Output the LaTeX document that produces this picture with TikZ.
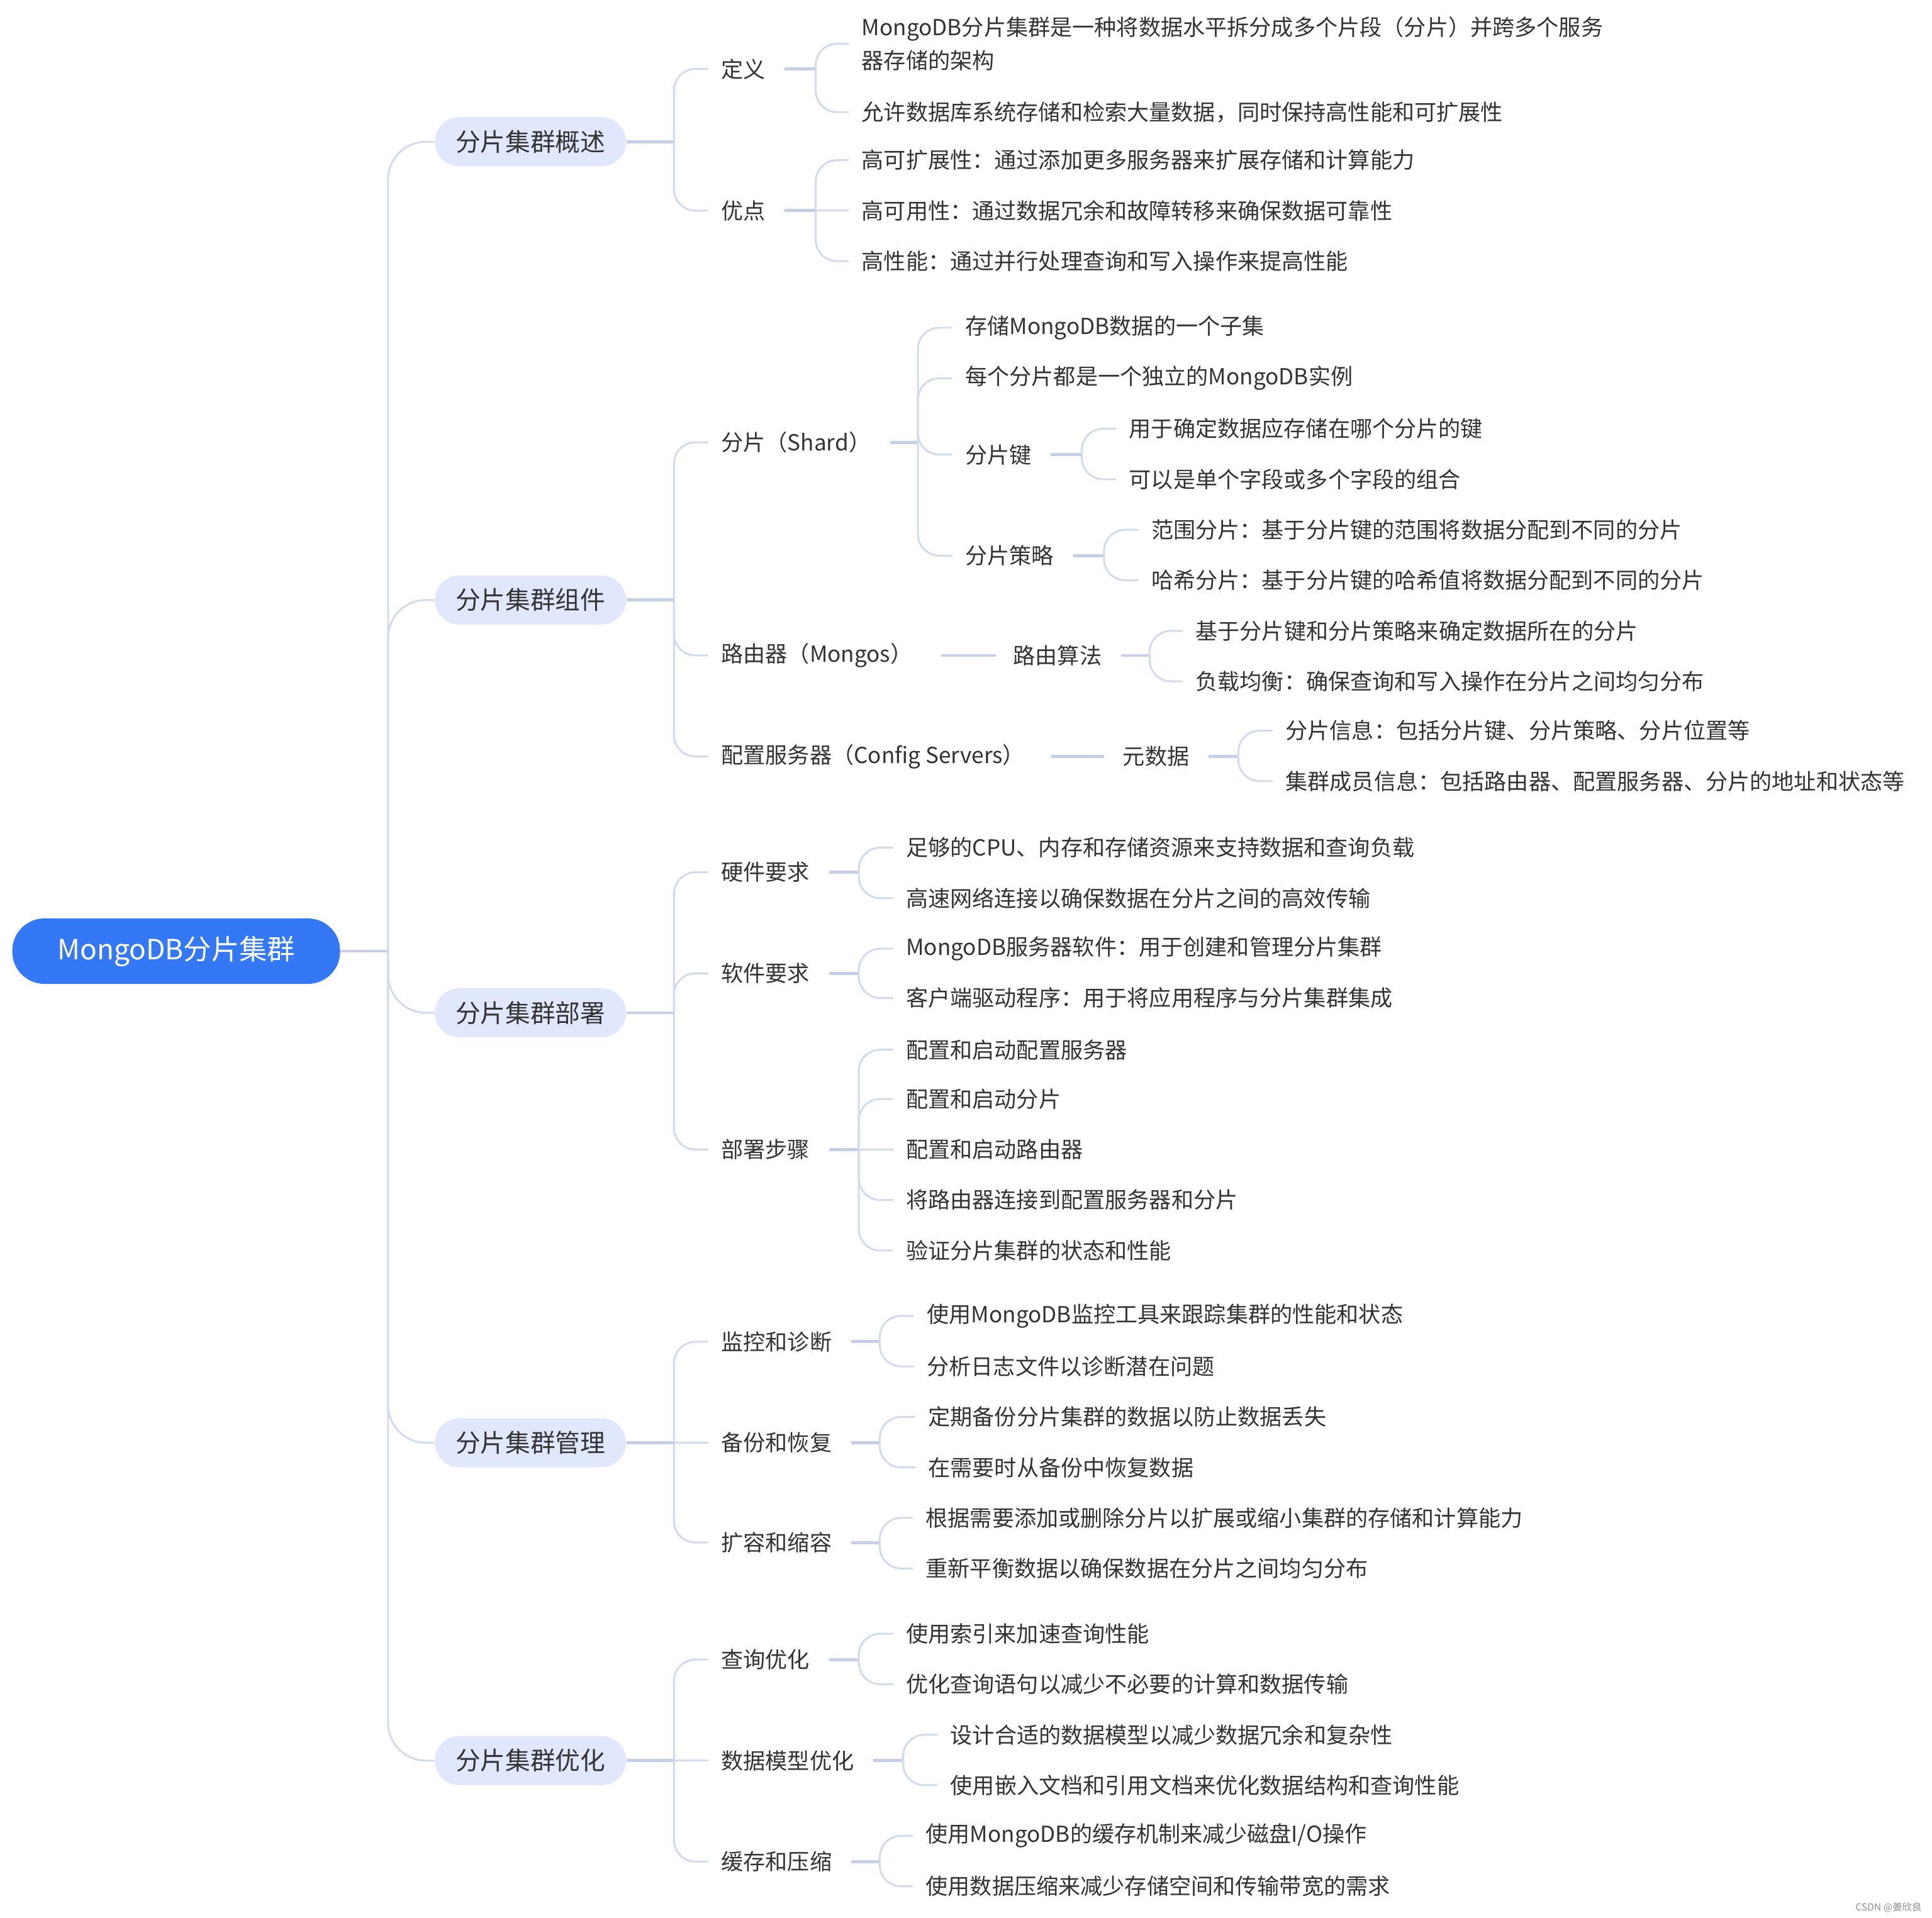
\documentclass[tikz,border=0pt]{standalone}
\usepackage{fontspec}
\setmainfont{Noto Sans CJK SC}
\usetikzlibrary{calc}
\definecolor{rootblue}{HTML}{3478F6}
\definecolor{mainfill}{HTML}{E1E8FD}
\definecolor{txt}{HTML}{333333}
\definecolor{lnc}{HTML}{D2DBEE}
\definecolor{stc}{HTML}{C5CFEA}
\begin{document}
\begin{tikzpicture}[x=0.19585mm,y=-0.19585mm,
 rootnode/.style={fill=rootblue, text=white, rounded corners=5.1mm, minimum width=52.1mm, minimum height=10.4mm, inner sep=0pt, font=\fontsize{12.6}{15}\selectfont},
 mainnode/.style={fill=mainfill, text=txt, rounded corners=3.9mm, minimum width=30.4mm, minimum height=7.8mm, inner sep=0pt, font=\fontsize{11.3}{13}\selectfont},
 lv/.style={anchor=west, text=txt, inner xsep=0pt, inner ysep=0.8mm, align=left, font=\fontsize{10}{15}\selectfont},
 conn/.style={draw=lnc, line width=0.85pt, rounded corners=3.4mm, shorten >=2mm},
 trunk/.style={draw=lnc, line width=0.85pt, rounded corners=6mm},
 stub/.style={draw=stc, line width=1.4pt},
]
\useasboundingbox (0,0) rectangle (1568,1556.3);

% root and main nodes
\node[rootnode] (root) at (143,772) {MongoDB分片集群};
\node[mainnode] (m1) at (430.5,115) {分片集群概述};
\node[mainnode] (m2) at (430.5,487) {分片集群组件};
\node[mainnode] (m3) at (430.5,822) {分片集群部署};
\node[mainnode] (m4) at (430.5,1171) {分片集群管理};
\node[mainnode] (m5) at (430.5,1429) {分片集群优化};

\coordinate (jr) at (315,772);
\draw[stub] (root.east) -- (jr);
\foreach \m in {m1,m2,m3,m4,m5} \draw[trunk] (jr) |- (\m.west);

% level 2
\node[lv] (a1) at (585,56) {定义};
\node[lv] (a2) at (585,171) {优点};
\node[lv] (b1) at (585,359) {分片（Shard）};
\node[lv] (b2) at (585,532) {路由器（Mongos）};
\node[lv] (b3) at (585,614) {配置服务器（Config Servers）};
\node[lv] (c1) at (585,708) {硬件要求};
\node[lv] (c2) at (585,790) {软件要求};
\node[lv] (c3) at (585,933) {部署步骤};
\node[lv] (d1) at (585,1089) {监控和诊断};
\node[lv] (d2) at (585,1171) {备份和恢复};
\node[lv] (d3) at (585,1252) {扩容和缩容};
\node[lv] (e1) at (585,1347) {查询优化};
\node[lv] (e2) at (585,1429) {数据模型优化};
\node[lv] (e3) at (585,1511) {缓存和压缩};

\coordinate (j1) at (547,115);
\coordinate (j2) at (547,487);
\coordinate (j3) at (547,822);
\coordinate (j4) at (547,1171);
\coordinate (j5) at (547,1429);
\draw[stub] (m1.east) -- (j1);
\draw[stub] (m2.east) -- (j2);
\draw[stub] (m3.east) -- (j3);
\draw[stub] (m4.east) -- (j4);
\draw[stub] (m5.east) -- (j5);
\foreach \n in {a1,a2} \draw[conn] (j1) |- (\n.west);
\foreach \n in {b1,b2,b3} \draw[conn] (j2) |- (\n.west);
\foreach \n in {c1,c3} \draw[conn] (j3) |- (\n.west);
\draw[conn] (j3) |- (c2.west);
\foreach \n in {d1,d3} \draw[conn] (j4) |- (\n.west);
\draw[conn] (j4) -- (d2.west);
\foreach \n in {e1,e3} \draw[conn] (j5) |- (\n.west);
\draw[conn] (j5) -- (e2.west);

% group 1 leaves
\node[lv] (a1-1) at (699,35.5) {MongoDB分片集群是一种将数据水平拆分成多个片段（分片）并跨多个服务\\器存储的架构};
\node[lv] (a1-2) at (699,91) {允许数据库系统存储和检索大量数据，同时保持高性能和可扩展性};
\node[lv] (a2-1) at (699,130) {高可扩展性：通过添加更多服务器来扩展存储和计算能力};
\node[lv] (a2-2) at (699,171) {高可用性：通过数据冗余和故障转移来确保数据可靠性};
\node[lv] (a2-3) at (699,212) {高性能：通过并行处理查询和写入操作来提高性能};
\coordinate (ja1) at (662,56);
\coordinate (ja2) at (662,171);
\draw[stub, shorten <=3mm] (a1.east) -- (ja1);
\draw[stub, shorten <=3mm] (a2.east) -- (ja2);
\foreach \n in {a1-1,a1-2} \draw[conn] (ja1) |- (\n.west);
\foreach \n in {a2-1,a2-3} \draw[conn] (ja2) |- (\n.west);
\draw[conn] (ja2) -- (a2-2.west);

% group 2 leaves
\node[lv] (b1-1) at (783,266) {存储MongoDB数据的一个子集};
\node[lv] (b1-2) at (783,307) {每个分片都是一个独立的MongoDB实例};
\node[lv] (b1-3) at (783,369) {分片键};
\node[lv] (b1-4) at (783,451) {分片策略};
\coordinate (jb1) at (745,359);
\draw[stub, shorten <=3mm] (b1.east) -- (jb1);
\foreach \n in {b1-1,b1-2,b1-3,b1-4} \draw[conn] (jb1) |- (\n.west);

\node[lv] (b13-1) at (916,348) {用于确定数据应存储在哪个分片的键};
\node[lv] (b13-2) at (916,389) {可以是单个字段或多个字段的组合};
\coordinate (jb13) at (878,369);
\draw[stub, shorten <=3mm] (b1-3.east) -- (jb13);
\foreach \n in {b13-1,b13-2} \draw[conn] (jb13) |- (\n.west);

\node[lv] (b14-1) at (934,430) {范围分片：基于分片键的范围将数据分配到不同的分片};
\node[lv] (b14-2) at (934,471) {哈希分片：基于分片键的哈希值将数据分配到不同的分片};
\coordinate (jb14) at (896,451);
\draw[stub, shorten <=3mm] (b1-4.east) -- (jb14);
\foreach \n in {b14-1,b14-2} \draw[conn] (jb14) |- (\n.west);

\node[lv] (b2r) at (822,532) {路由算法};
\draw[stub, shorten <=4.5mm, shorten >=2.7mm] (b2.east) -- (b2r.west);
\node[lv] (b2-1) at (970,512) {基于分片键和分片策略来确定数据所在的分片};
\node[lv] (b2-2) at (970,553) {负载均衡：确保查询和写入操作在分片之间均匀分布};
\coordinate (jb2) at (933,532);
\draw[stub, shorten <=3mm] (b2r.east) -- (jb2);
\foreach \n in {b2-1,b2-2} \draw[conn] (jb2) |- (\n.west);

\node[lv] (b3r) at (911,614) {元数据};
\draw[stub, shorten <=4.1mm, shorten >=2.9mm] (b3.east) -- (b3r.west);
\node[lv] (b3-1) at (1043,593) {分片信息：包括分片键、分片策略、分片位置等};
\node[lv] (b3-2) at (1043,634) {集群成员信息：包括路由器、配置服务器、分片的地址和状态等};
\coordinate (jb3) at (1005,614);
\draw[stub, shorten <=3mm] (b3r.east) -- (jb3);
\foreach \n in {b3-1,b3-2} \draw[conn] (jb3) |- (\n.west);

% group 3 leaves
\node[lv] (c1-1) at (735,688) {足够的CPU、内存和存储资源来支持数据和查询负载};
\node[lv] (c1-2) at (735,729) {高速网络连接以确保数据在分片之间的高效传输};
\node[lv] (c2-1) at (735,770) {MongoDB服务器软件：用于创建和管理分片集群};
\node[lv] (c2-2) at (735,810) {客户端驱动程序：用于将应用程序与分片集群集成};
\node[lv] (c3-1) at (735,852) {配置和启动配置服务器};
\node[lv] (c3-2) at (735,892) {配置和启动分片};
\node[lv] (c3-3) at (735,933) {配置和启动路由器};
\node[lv] (c3-4) at (735,974) {将路由器连接到配置服务器和分片};
\node[lv] (c3-5) at (735,1015) {验证分片集群的状态和性能};
\coordinate (jc1) at (697,708);
\coordinate (jc2) at (697,790);
\coordinate (jc3) at (697,933);
\draw[stub, shorten <=3mm] (c1.east) -- (jc1);
\draw[stub, shorten <=3mm] (c2.east) -- (jc2);
\draw[stub, shorten <=3mm] (c3.east) -- (jc3);
\foreach \n in {c1-1,c1-2} \draw[conn] (jc1) |- (\n.west);
\foreach \n in {c2-1,c2-2} \draw[conn] (jc2) |- (\n.west);
\foreach \n in {c3-1,c3-2,c3-4,c3-5} \draw[conn] (jc3) |- (\n.west);
\draw[conn] (jc3) -- (c3-3.west);

% group 4 leaves
\node[lv] (d1-1) at (752,1068) {使用MongoDB监控工具来跟踪集群的性能和状态};
\node[lv] (d1-2) at (752,1109) {分析日志文件以诊断潜在问题};
\node[lv] (d2-1) at (753,1150) {定期备份分片集群的数据以防止数据丢失};
\node[lv] (d2-2) at (753,1191) {在需要时从备份中恢复数据};
\node[lv] (d3-1) at (751,1232) {根据需要添加或删除分片以扩展或缩小集群的存储和计算能力};
\node[lv] (d3-2) at (751,1273) {重新平衡数据以确保数据在分片之间均匀分布};
\coordinate (jd1) at (714,1089);
\coordinate (jd2) at (714,1171);
\coordinate (jd3) at (714,1252);
\draw[stub, shorten <=3mm] (d1.east) -- (jd1);
\draw[stub, shorten <=3mm] (d2.east) -- (jd2);
\draw[stub, shorten <=3mm] (d3.east) -- (jd3);
\foreach \n in {d1-1,d1-2} \draw[conn] (jd1) |- (\n.west);
\foreach \n in {d2-1,d2-2} \draw[conn] (jd2) |- (\n.west);
\foreach \n in {d3-1,d3-2} \draw[conn] (jd3) |- (\n.west);

% group 5 leaves
\node[lv] (e1-1) at (735,1326) {使用索引来加速查询性能};
\node[lv] (e1-2) at (735,1367) {优化查询语句以减少不必要的计算和数据传输};
\node[lv] (e2-1) at (771,1408) {设计合适的数据模型以减少数据冗余和复杂性};
\node[lv] (e2-2) at (771,1449) {使用嵌入文档和引用文档来优化数据结构和查询性能};
\node[lv] (e3-1) at (751,1490) {使用MongoDB的缓存机制来减少磁盘I/O操作};
\node[lv] (e3-2) at (751,1531) {使用数据压缩来减少存储空间和传输带宽的需求};
\coordinate (je1) at (697,1347);
\coordinate (je2) at (733,1429);
\coordinate (je3) at (714,1511);
\draw[stub, shorten <=3mm] (e1.east) -- (je1);
\draw[stub, shorten <=3mm] (e2.east) -- (je2);
\draw[stub, shorten <=3mm] (e3.east) -- (je3);
\foreach \n in {e1-1,e1-2} \draw[conn] (je1) |- (\n.west);
\foreach \n in {e2-1,e2-2} \draw[conn] (je2) |- (\n.west);
\foreach \n in {e3-1,e3-2} \draw[conn] (je3) |- (\n.west);

% watermark
\node[anchor=east, text=black!45, inner sep=0pt, font=\fontsize{4.4}{5}\selectfont] (wm) at (1560,1548) {CSDN @姜欣良};
\end{tikzpicture}
\end{document}
